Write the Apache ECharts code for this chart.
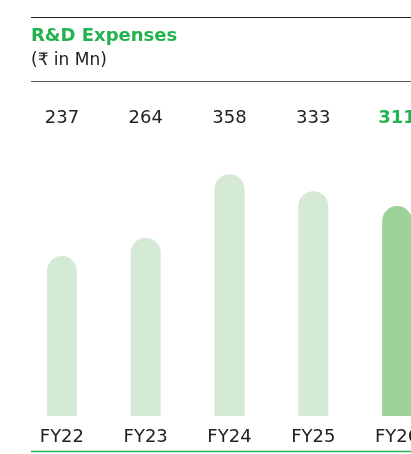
<!DOCTYPE html>
<html style="height: 100%">
<head>
    <meta charset="UTF-8">
    <script type="text/javascript" src="https://cdn.jsdelivr.net/npm/echarts@6/dist/echarts.min.js"></script>
</head>
<body style="height: 100%; margin: 0; background: #fff">
    <div id="container" style="width: 411px; height: 454px;"></div>
    <script type="text/javascript">
        var years = ['FY22', 'FY23', 'FY24', 'FY25', 'FY26'];
        var rdExpenses = [237, 264, 358, 333, 311];
        var barColors = ['#d5ead5', '#d5ead5', '#d5ead5', '#d5ead5', '#9dd39a'];
        var green = '#22b24f';
        var font = '"DejaVu Sans", sans-serif';

        var myChart = echarts.init(document.getElementById('container'));

        var option = {
            backgroundColor: '#fff',
            animation: false,
            grid: { left: 20, width: 419, top: 146, bottom: 38, outerBoundsMode: 'none' },
            graphic: [
                { type: 'line', shape: { x1: 31, y1: 17.5, x2: 411, y2: 17.5 }, style: { stroke: '#222', lineWidth: 1 } },
                { type: 'text', left: 31, top: 27, style: { text: 'R&D Expenses', fill: green, font: 'bold 18px ' + font } },
                { type: 'text', left: 31, top: 52, style: { text: '(₹ in Mn)', fill: '#222', font: '17px ' + font } },
                { type: 'line', shape: { x1: 31, y1: 81.5, x2: 411, y2: 81.5 }, style: { stroke: '#555', lineWidth: 1 } },
                { type: 'line', shape: { x1: 31, y1: 451.5, x2: 411, y2: 451.5 }, style: { stroke: green, lineWidth: 1.5 } }
            ],
            xAxis: [{
                type: 'category',
                data: years,
                axisLine: { show: false },
                axisTick: { show: false },
                axisLabel: { interval: 0, color: '#222', fontSize: 18, fontFamily: font, margin: 12 }
            }, {
                type: 'category',
                position: 'top',
                data: rdExpenses.map(String),
                axisLine: { show: false },
                axisTick: { show: false },
                axisLabel: {
                    interval: 0, fontSize: 18, fontFamily: font, margin: 19,
                    formatter: function (v, i) {
                        return i === rdExpenses.length - 1 ? '{hl|' + v + '}' : '{n|' + v + '}';
                    },
                    rich: {
                        n: { color: '#222', fontSize: 18, fontFamily: font },
                        hl: { color: green, fontSize: 18, fontWeight: 'bold', fontFamily: font }
                    }
                }
            }],
            yAxis: {
                type: 'value',
                min: 0,
                max: 400,
                show: false,
                splitLine: { show: false }
            },
            series: [{
                type: 'bar',
                barWidth: 30,
                data: rdExpenses.map(function (v, i) {
                    return { value: v, itemStyle: { color: barColors[i] } };
                }),
                itemStyle: { borderRadius: [15, 15, 0, 0] }
            }]
        };
        myChart.setOption(option, true);
    </script>
</body>
</html>
